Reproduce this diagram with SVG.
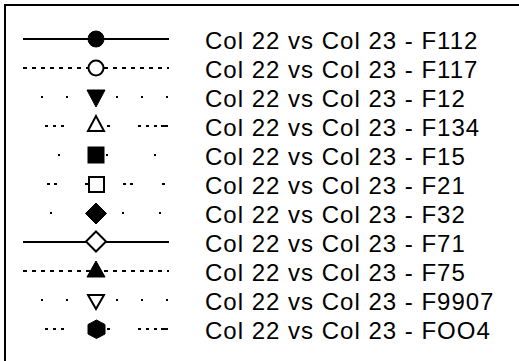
<svg xmlns="http://www.w3.org/2000/svg" width="519" height="361" viewBox="0 0 519 361">
<style>
.ln{fill:none;stroke:#000;stroke-width:2}
.s2{stroke-dasharray:4 5}
.s3{stroke-dasharray:2 23}
.f{fill:#000;stroke:#000;stroke-width:1}
.o{fill:#fff;stroke:#000;stroke-width:2}
text{font-family:"Liberation Sans",Arial,sans-serif;font-size:24px;fill:#000;letter-spacing:1px}
</style>
<rect x="5" y="5" width="520" height="360" fill="#fff" stroke="#000" stroke-width="2"/>
<g id="connectors">
<line class="ln" x1="23" y1="39" x2="169" y2="39"/>
<line class="ln s2" x1="23" y1="68" x2="169" y2="68"/>
<line class="ln s3" x1="41" y1="97" x2="169" y2="97"/>
<path class="ln" d="M45 126h3M53 126h3M61 126h3M107 126h3M138 126h3M146 126h3M154 126h3M161 126h7"/>
<path class="ln" d="M58 155h2M106 155h2M154 155h2"/>
<path class="ln" d="M47 184h3M54 184h3M85 184h3M123 184h3M130 184h3M162 184h3"/>
<path class="ln" d="M50 213h2M122 213h2M159 213h2"/>
<line class="ln" x1="23" y1="242" x2="169" y2="242"/>
<line class="ln s2" x1="23" y1="271" x2="169" y2="271"/>
<line class="ln s3" x1="41" y1="300" x2="169" y2="300"/>
<path class="ln" d="M45 329h3M53 329h3M61 329h3M107 329h3M138 329h3M146 329h3M154 329h3M161 329h7"/>
</g>
<g id="n1"><circle class="f" cx="96" cy="39" r="8"/><text x="205" y="48.5">Col 22 vs Col 23 - F112</text></g>
<g id="n2"><circle class="o" cx="96" cy="68" r="7.5"/><text x="205" y="77.5">Col 22 vs Col 23 - F117</text></g>
<g id="n3"><polygon class="f" points="87,90 105,90 96,107"/><text x="205" y="106.5">Col 22 vs Col 23 - F12</text></g>
<g id="n4"><polygon class="o" points="96,116 88,131 104,131"/><text x="205" y="135.5">Col 22 vs Col 23 - F134</text></g>
<g id="n5"><rect class="f" x="88" y="147" width="16" height="16"/><text x="205" y="164.5">Col 22 vs Col 23 - F15</text></g>
<g id="n6"><rect class="o" x="89" y="177" width="15" height="15"/><text x="205" y="193.5">Col 22 vs Col 23 - F21</text></g>
<g id="n7"><polygon class="f" points="96,203 106.5,213.5 96,224 85.5,213.5"/><text x="205" y="222.5">Col 22 vs Col 23 - F32</text></g>
<g id="n8"><polygon class="o" points="96,231.5 106,241.5 96,251.5 86,241.5"/><text x="205" y="251.5">Col 22 vs Col 23 - F71</text></g>
<g id="n9"><polygon class="f" points="96,261 87,277 105,277"/><text x="205" y="280.5">Col 22 vs Col 23 - F75</text></g>
<g id="n10"><polygon class="o" points="88,295 104,295 96,309"/><text x="205" y="309.5">Col 22 vs Col 23 - F9907</text></g>
<g id="n11"><polygon class="f" points="96.5,320 105,324.5 105,334 96.5,338.5 88,334 88,324.5"/><text x="205" y="338.5">Col 22 vs Col 23 - FOO4</text></g>
</svg>
